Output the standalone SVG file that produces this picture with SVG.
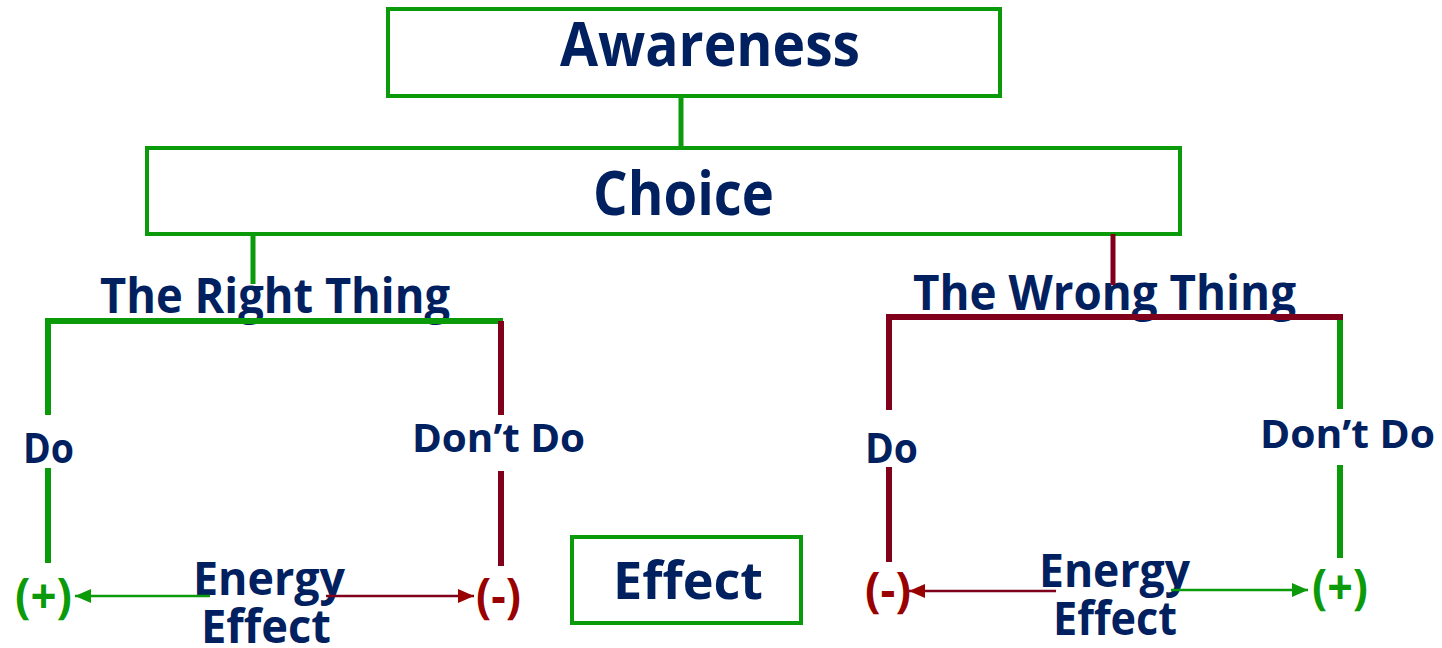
<svg xmlns="http://www.w3.org/2000/svg" width="1442" height="648" viewBox="0 0 1442 648">
<style>
  .t { font-family: "Open Sans", "Noto Sans", "Liberation Sans", sans-serif; font-weight: 700; fill: #002060; }
  .box { fill: #ffffff; stroke: #0a9a0a; stroke-width: 4; }
  .g { stroke: #0a9a0a; fill: none; }
  .r { stroke: #80001c; fill: none; }
  .tree { stroke-width: 6; stroke-linejoin: miter; stroke-linecap: butt; }
  .stem { stroke-width: 5; }
  .arr { stroke-width: 2.5; }
  .plus { fill: #0a9a0a; }
  .minus { fill: #990000; }
</style>
<defs>
  <marker id="ahG" markerUnits="userSpaceOnUse" markerWidth="18" markerHeight="18" viewBox="0 0 18 18" refX="17" refY="9" orient="auto">
    <path d="M1,2 L17,9 L1,16 Z" fill="#0a9a0a"/>
  </marker>
  <marker id="ahR" markerUnits="userSpaceOnUse" markerWidth="18" markerHeight="18" viewBox="0 0 18 18" refX="17" refY="9" orient="auto">
    <path d="M1,2 L17,9 L1,16 Z" fill="#990000"/>
  </marker>
</defs>
<rect width="1442" height="648" fill="#ffffff"/>

<g id="awareness">
  <rect class="box" x="388" y="9" width="612" height="87"/>
  <text class="t" x="560" y="66" font-size="60" textLength="300" lengthAdjust="spacingAndGlyphs">Awareness</text>
</g>
<g id="choice">
  <rect class="box" x="147" y="148" width="1033" height="86"/>
  <text class="t" x="593" y="215" font-size="60" textLength="181" lengthAdjust="spacingAndGlyphs">Choice</text>
</g>
<g id="right-thing">
  <text class="t" x="100" y="313" font-size="49" textLength="350" lengthAdjust="spacingAndGlyphs">The Right Thing</text>
</g>
<g id="wrong-thing">
  <text class="t" x="913" y="310" font-size="49" textLength="383" lengthAdjust="spacingAndGlyphs">The Wrong Thing</text>
</g>
<g id="right-do">
  <text class="t" x="23" y="463" font-size="41" textLength="51" lengthAdjust="spacingAndGlyphs">Do</text>
</g>
<g id="right-dont">
  <text class="t" x="412" y="452" font-size="39" textLength="173" lengthAdjust="spacingAndGlyphs">Don’t Do</text>
</g>
<g id="wrong-do">
  <text class="t" x="865" y="463" font-size="41" textLength="53" lengthAdjust="spacingAndGlyphs">Do</text>
</g>
<g id="wrong-dont">
  <text class="t" x="1260" y="448" font-size="39" textLength="175" lengthAdjust="spacingAndGlyphs">Don’t Do</text>
</g>
<g id="left-plus">
  <text class="t plus" x="15" y="613" font-size="48" textLength="57" lengthAdjust="spacingAndGlyphs">(+)</text>
</g>
<g id="left-minus">
  <text class="t minus" x="476" y="613" font-size="48" textLength="45" lengthAdjust="spacingAndGlyphs">(-)</text>
</g>
<g id="right-minus">
  <text class="t minus" x="865" y="607" font-size="48" textLength="46" lengthAdjust="spacingAndGlyphs">(-)</text>
</g>
<g id="right-plus">
  <text class="t plus" x="1312" y="604" font-size="48" textLength="56" lengthAdjust="spacingAndGlyphs">(+)</text>
</g>
<g id="energy-left">
  <text class="t" x="193" y="595" font-size="46" textLength="152" lengthAdjust="spacingAndGlyphs">Energy</text>
  <text class="t" x="201" y="643" font-size="46" textLength="130" lengthAdjust="spacingAndGlyphs">Effect</text>
</g>
<g id="energy-right">
  <text class="t" x="1039" y="587" font-size="46" textLength="151" lengthAdjust="spacingAndGlyphs">Energy</text>
  <text class="t" x="1053" y="635" font-size="46" textLength="124" lengthAdjust="spacingAndGlyphs">Effect</text>
</g>
<g id="effect">
  <rect class="box" x="572" y="537" width="229" height="86"/>
  <text class="t" x="613" y="599" font-size="52" textLength="150" lengthAdjust="spacingAndGlyphs">Effect</text>
</g>

<g id="connectors">
  <line class="g stem" x1="681" y1="96" x2="681" y2="148"/>
  <line class="g stem" x1="253" y1="234" x2="253" y2="284"/>
  <line class="r stem" x1="1113" y1="234" x2="1113" y2="285"/>

  <path class="g tree" d="M48,415 L48,321 L503,321"/>
  <path class="r tree" d="M501,321 L501,415"/>
  <line class="g tree" x1="48" y1="468" x2="48" y2="563"/>
  <line class="r tree" x1="501" y1="471" x2="501" y2="566"/>

  <path class="r tree" d="M889,410 L889,317 L1343,317"/>
  <path class="g tree" d="M1340,320 L1340,409"/>
  <line class="r tree" x1="889" y1="467" x2="889" y2="562"/>
  <line class="g tree" x1="1340" y1="465" x2="1340" y2="558"/>

  <line class="g arr" x1="210" y1="596" x2="75" y2="596" marker-end="url(#ahG)"/>
  <line class="r arr" x1="326" y1="596" x2="474" y2="596" marker-end="url(#ahR)"/>
  <line class="r arr" x1="1056" y1="591" x2="909" y2="591" marker-end="url(#ahR)"/>
  <line class="g arr" x1="1171" y1="590" x2="1308" y2="590" marker-end="url(#ahG)"/>
</g>
</svg>
